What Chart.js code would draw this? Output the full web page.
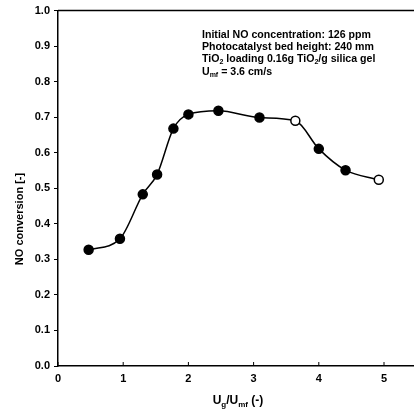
<!DOCTYPE html>
<html>
<head>
<meta charset="utf-8">
<script src="https://cdn.jsdelivr.net/npm/chart.js@4"></script>
<style>
	html, body { margin: 0; padding: 0; background: #fff; overflow: hidden; }
	canvas { display: block; }
</style>
</head>
<body>
<canvas id="chart" width="414" height="414"></canvas>
<script>
// values
const velocityRatio = [0.47, 0.95, 1.30, 1.52, 1.77, 2.00, 2.46, 3.09, 3.64, 4.00, 4.41, 4.92];
const noConversion = [0.327, 0.358, 0.483, 0.539, 0.668, 0.708, 0.718, 0.699, 0.690, 0.611, 0.551, 0.524];
const xTicks = [0, 1, 2, 3, 4, 5];
const yTicks = [0, 0.1, 0.2, 0.3, 0.4, 0.5, 0.6, 0.7, 0.8, 0.9, 1.0];

const FONT = "'Liberation Sans', Arial, sans-serif";

// two points look hollow in the scan
const pointFill = noConversion.map((v, i) => (i === 8 || i === 11) ? '#fff' : '#000');

// draws a line of text with subscript parts: [[text, isSub], ...]
function drawRich(ctx, parts, x, y, size, align) {
	const subSize = Math.round(size * 0.7);
	let total = 0;
	parts.forEach(([t, sub]) => {
		ctx.font = `bold ${sub ? subSize : size}px ${FONT}`;
		total += ctx.measureText(t).width;
	});
	let cx = align === 'center' ? x - total / 2 : x;
	parts.forEach(([t, sub]) => {
		ctx.font = `bold ${sub ? subSize : size}px ${FONT}`;
		ctx.fillText(t, cx, sub ? y + size * 0.3 : y);
		cx += ctx.measureText(t).width;
	});
}

const extras = {
	id: 'extras',
	afterDraw(chart) {
		const {ctx, chartArea: a, scales: {x, y}} = chart;
		ctx.save();
		ctx.strokeStyle = '#000';
		ctx.lineWidth = 1.5;
		// top frame line
		ctx.beginPath();
		ctx.moveTo(a.left, a.top);
		ctx.lineTo(a.right, a.top);
		ctx.stroke();
		// inward x ticks
		ctx.lineWidth = 1;
		xTicks.forEach(v => {
			const px = x.getPixelForValue(v);
			ctx.beginPath();
			ctx.moveTo(px, a.bottom);
			ctx.lineTo(px, a.bottom - 4);
			ctx.stroke();
		});

		ctx.fillStyle = '#000';
		ctx.textBaseline = 'middle';
		ctx.textAlign = 'left';
		// annotation block
		const tx = 202;
		drawRich(ctx, [['Initial NO concentration: 126 ppm']], tx, 35, 10.6);
		drawRich(ctx, [['Photocatalyst bed height: 240 mm']], tx, 47, 10.6);
		drawRich(ctx, [['TiO'], ['2', true], [' loading 0.16g TiO'], ['2', true], ['/g silica gel']], tx, 59, 10.6);
		drawRich(ctx, [['U'], ['mf', true], [' = 3.6 cm/s']], tx, 72, 10.6);

		// x axis title
		drawRich(ctx, [['U'], ['g', true], ['/U'], ['mf', true], [' (-)']], 238, 401, 12, 'center');

		// y axis title
		ctx.translate(20, 219);
		ctx.rotate(-Math.PI / 2);
		ctx.textAlign = 'center';
		ctx.font = `bold 11px ${FONT}`;
		ctx.fillText('NO conversion [-]', 0, 0);
		ctx.restore();
	}
};

new Chart(document.getElementById('chart'), {
	type: 'line',
	data: {
		datasets: [{
			data: velocityRatio.map((v, i) => ({x: v, y: noConversion[i]})),
			borderColor: '#000',
			borderWidth: 1.5,
			cubicInterpolationMode: 'monotone',
			pointRadius: 4.5,
			pointBorderWidth: 1.5,
			pointBorderColor: '#000',
			pointBackgroundColor: pointFill,
			clip: false,
		}]
	},
	options: {
		responsive: false,
		animation: false,
		layout: { autoPadding: false, padding: { top: 9, right: 0, left: 0, bottom: 0 } },
		plugins: { legend: { display: false }, tooltip: { enabled: false } },
		scales: {
			x: {
				type: 'linear',
				min: 0, max: 5.46,
				afterBuildTicks: (scale) => { scale.ticks = xTicks.map(v => ({value: v})); },
				afterFit: (scale) => { scale.height = 48; scale.paddingRight = 0; scale.paddingLeft = 0; },
				grid: { display: false, drawTicks: false },
				border: { display: true, color: '#000', width: 1.5 },
				ticks: {
					padding: 6,
					color: '#000',
					font: { family: FONT, size: 11, weight: 'bold' },
					maxRotation: 0,
				},
			},
			y: {
				min: 0, max: 1,
				afterBuildTicks: (scale) => { scale.ticks = yTicks.map(v => ({value: v})); },
				afterFit: (scale) => { scale.width = 58; },
				grid: { drawOnChartArea: false, drawTicks: true, tickLength: 4, color: '#000' },
				border: { display: true, color: '#000', width: 1.5 },
				ticks: {
					padding: 4,
					color: '#000',
					font: { family: FONT, size: 11, weight: 'bold' },
					callback: (v) => v.toFixed(1),
				},
			},
		},
	},
	plugins: [extras],
});
</script>
</body>
</html>
